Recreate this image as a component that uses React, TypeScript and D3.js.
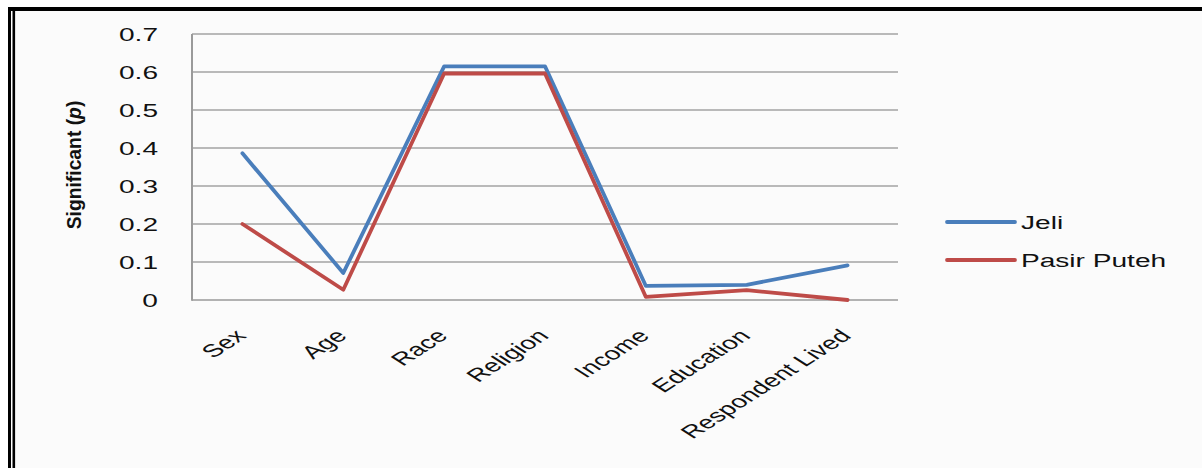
import React from "react";
import * as d3 from "d3";

const categories = ["Sex", "Age", "Race", "Religion", "Income", "Education", "Respondent Lived"];
const jeli = [0.386, 0.071, 0.615, 0.615, 0.037, 0.04, 0.091];
const pasirPuteh = [0.2, 0.027, 0.596, 0.596, 0.008, 0.026, 0.0];
const yTicks = [0, 0.1, 0.2, 0.3, 0.4, 0.5, 0.6, 0.7];
const seriesNames = ["Jeli", "Pasir Puteh"];

const W = 1202;
const H = 468;
const S = 1.56; // horizontal stretch of text
const FONT = "'Liberation Sans', Arial, sans-serif";
const COLORS = ["#4a7ebb", "#be4b48"];

export default function App() {
  const x = d3.scaleBand<string>().domain(categories).range([192, 898]).padding(0);
  const cx = (c: string) => (x(c) as number) + x.bandwidth() / 2;
  const y = d3.scaleLinear().domain([0, 0.7]).range([300, 34]);
  const line = d3
    .line<number>()
    .x((_, i) => cx(categories[i]))
    .y((d) => y(d))
    .curve(d3.curveLinear);
  const series = [jeli, pasirPuteh];

  return (
    <div style={{ position: "fixed", left: 0, top: 0 }}>
      <svg width={W} height={H} style={{ display: "block" }}>
        <rect x={0} y={0} width={W} height={H} fill="#ffffff" />
        <rect x={15} y={11} width={W - 15} height={H - 11} fill="#fbfbfb" />
        {/* border */}
        <rect x={8} y={7} width={W - 8} height={4} fill="#000" />
        <rect x={8} y={7} width={3} height={H - 7} fill="#000" />
        <rect x={12.5} y={10} width={2.6} height={H - 10} fill="#000" />

        {/* gridlines */}
        {yTicks.map((t) => (
          <line
            key={"g" + t}
            x1={192}
            x2={898}
            y1={y(t)}
            y2={y(t)}
            stroke={t === 0 ? "#9a9a9a" : "#a3a3a3"}
            strokeWidth={1.6}
          />
        ))}
        <line x1={192} x2={192} y1={y(0.7)} y2={y(0) + 0.8} stroke="#9a9a9a" strokeWidth={2} />

        {/* y tick labels */}
        {yTicks.map((t) => (
          <g key={"yl" + t} transform={`translate(158,${y(t) + 6.5}) scale(${S},1)`}>
            <text textAnchor="end" fontFamily={FONT} fontSize={18} fill="#111">
              {String(t)}
            </text>
          </g>
        ))}

        {/* y axis title */}
        <g transform="translate(81,165) rotate(-90) scale(0.92,1)">
          <text textAnchor="middle" fontFamily={FONT} fontSize={21} fontWeight="bold" fill="#111">
            Significant (<tspan fontStyle="italic">p</tspan>)
          </text>
        </g>

        {/* x labels */}
        {categories.map((c) => (
          <g key={"xl" + c} transform={`translate(${cx(c) + 5},337) scale(${S},1) rotate(-45)`}>
            <text textAnchor="end" fontFamily={FONT} fontSize={18} fill="#111">
              {c}
            </text>
          </g>
        ))}

        {/* lines */}
        {series.map((s, i) => (
          <path
            key={"s" + i}
            d={line(s) || ""}
            fill="none"
            stroke={COLORS[i]}
            strokeWidth={3.8}
            strokeLinejoin="round"
            strokeLinecap="round"
          />
        ))}

        {/* legend */}
        {seriesNames.map((n, i) => (
          <g key={"lg" + n}>
            <line
              x1={947}
              x2={1015}
              y1={222 + i * 38}
              y2={222 + i * 38}
              stroke={COLORS[i]}
              strokeWidth={3.8}
              strokeLinecap="round"
            />
            <g transform={`translate(1021,${222 + i * 38 + 6.5}) scale(${S},1)`}>
              <text fontFamily={FONT} fontSize={18} fill="#111">
                {n}
              </text>
            </g>
          </g>
        ))}
      </svg>
    </div>
  );
}
